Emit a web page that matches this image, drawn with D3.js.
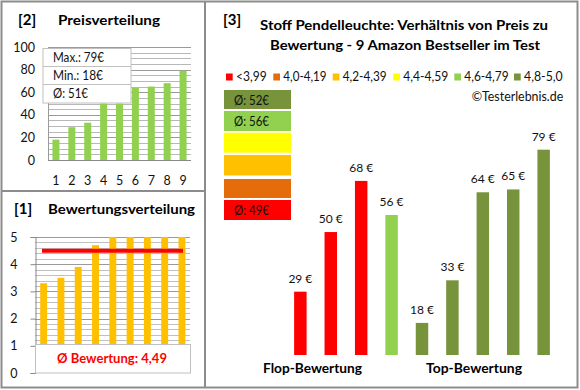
<!DOCTYPE html>
<html><head><meta charset="utf-8">
<script src="https://cdn.jsdelivr.net/npm/d3@7"></script>
<style>body{margin:0;background:#fff}svg{display:block}text{font-family:Lato,"Open Sans",sans-serif}</style>
</head><body><svg id="c" width="580" height="390"></svg>
<script>
// ---- data ----
const priceCats = ["1","2","3","4","5","6","7","8","9"];
const prices = [18,29,33,50,50,64,65,68,79];
const priceTicks = [0,20,40,60,80,100];
const priceStats = ["Max.: 79€","Min.: 18€","Ø: 51€"];

const ratingCats = ["1","2","3","4","5","6","7","8","9"];
const ratings = [3.3,3.5,3.9,4.7,5,5,5,5,5];
const ratingTicks = [0,1,2,3,4,5];
const avgRating = 4.49;
const avgRatingLabel = "Ø Bewertung: 4,49";

const cmpCats = ["a","b","c","d","e","f","g","h","i"];
const cmpPrices = [29,50,68,56,18,33,64,65,79];
const cmpGroup = [0,0,0,4,5,5,5,5,5];
const groupLabels = ["<3,99","4,0-4,19","4,2-4,39","4,4-4,59","4,6-4,79","4,8-5,0"];
const groupColors = ["#ff0000","#e46c0a","#ffc000","#ffff00","#92d050","#77933c"];
const groupAvg = ["Ø: 49€","","","","Ø: 56€","Ø: 52€"];

const svg = d3.select("#c");
function fit(sel, w){ return sel.attr("textLength",w).attr("lengthAdjust","spacingAndGlyphs"); }
// borders
const bc = "#8c8c8c";
svg.append("rect").attr("x",1.5).attr("y",1.5).attr("width",576).attr("height",386).attr("fill","none").attr("stroke",bc).attr("stroke-width",2);
svg.append("line").attr("x1",205).attr("x2",205).attr("y1",1).attr("y2",388).attr("stroke",bc).attr("stroke-width",2);
svg.append("line").attr("x1",1).attr("x2",205).attr("y1",191).attr("y2",191).attr("stroke",bc).attr("stroke-width",2);

// ---- Panel 2: Preisverteilung ----
svg.append("text").attr("x",18).attr("y",25).attr("font-size",15).attr("font-weight","bold").text("[2]");
fit(svg.append("text").attr("x",58).attr("y",25).attr("font-size",13.5).attr("font-weight","bold").text("Preisverteilung"),102);
const x2 = d3.scaleBand().domain(priceCats).range([48,191]).paddingInner(0.56).paddingOuter(0.28);
const y2 = d3.scaleLinear().domain([0,100]).range([160,47]);
const g2 = svg.append("g");
g2.selectAll("line.grid").data(d3.range(5,101,5)).join("line")
  .attr("x1",48).attr("x2",191).attr("y1",d=>Math.round(y2(d))+0.5).attr("y2",d=>Math.round(y2(d))+0.5)
  .attr("stroke",d=>d%20===0?"#9a9a9a":"#b8b8b8").attr("stroke-width",1);
g2.append("line").attr("x1",48.5).attr("x2",48.5).attr("y1",y2(100)).attr("y2",y2(0)).attr("stroke","#9a9a9a");
g2.append("line").attr("x1",48).attr("x2",191).attr("y1",y2(0)+0.5).attr("y2",y2(0)+0.5).attr("stroke","#888");
g2.selectAll("rect.bar").data(prices).join("rect")
  .attr("x",(d,i)=>x2(priceCats[i])).attr("width",x2.bandwidth())
  .attr("y",d=>y2(d)).attr("height",d=>y2(0)-y2(d)).attr("fill","#92d050");
const ax2 = d3.axisLeft(y2).tickValues(priceTicks).tickSize(0).tickPadding(0);
const ag2 = svg.append("g").attr("transform","translate(35,0)").call(ax2);
ag2.select(".domain").remove();
ag2.selectAll("text").attr("font-size",12.5).attr("fill","#111").style("font-family","Lato,sans-serif");
const bx2 = d3.axisBottom(x2).tickSize(0).tickPadding(0);
const bg2 = svg.append("g").attr("transform","translate(0,176)").call(bx2);
bg2.select(".domain").remove();
bg2.selectAll("text").attr("font-size",12.5).attr("fill","#111").style("font-family","Lato,sans-serif");
// stats box
const sb = svg.append("g");
sb.append("rect").attr("x",43).attr("y",48.5).attr("width",88).attr("height",54.5).attr("fill","#fff").attr("stroke","#c0c0c0");
sb.append("line").attr("x1",43).attr("x2",131).attr("y1",66.5).attr("y2",66.5).attr("stroke","#c0c0c0");
sb.append("line").attr("x1",43).attr("x2",131).attr("y1",84.5).attr("y2",84.5).attr("stroke","#c0c0c0");
const statW = [51,50,35];
sb.selectAll("text").data(priceStats).join("text").attr("x",53).attr("y",(d,i)=>62+i*18)
  .attr("font-size",12.5).attr("fill","#111").text(d=>d)
  .attr("textLength",(d,i)=>statW[i]).attr("lengthAdjust","spacingAndGlyphs");

// ---- Panel 1: Bewertungsverteilung ----
svg.append("text").attr("x",14).attr("y",214).attr("font-size",15).attr("font-weight","bold").text("[1]");
fit(svg.append("text").attr("x",48).attr("y",214).attr("font-size",13.5).attr("font-weight","bold").text("Bewertungsverteilung"),147);
const x1 = d3.scaleBand().domain(ratingCats).range([35,190.6]).paddingInner(0.6).paddingOuter(0.3);
const y1 = d3.scaleLinear().domain([0,5]).range([373,237]);
const g1 = svg.append("g");
g1.selectAll("line.grid").data(d3.range(1,26).map(i=>i/5)).join("line")
  .attr("x1",35).attr("x2",190).attr("y1",d=>Math.round(y1(d))+0.5).attr("y2",d=>Math.round(y1(d))+0.5)
  .attr("stroke",(d,i)=>(i+1)%5===0?"#9a9a9a":"#c0c0c0");
g1.selectAll("rect.bar").data(ratings).join("rect")
  .attr("x",(d,i)=>x1(ratingCats[i])).attr("width",x1.bandwidth())
  .attr("y",d=>y1(d)).attr("height",d=>y1(0)-y1(d)).attr("fill","#ffc000");
g1.append("line").attr("x1",42).attr("x2",183).attr("y1",y1(avgRating)).attr("y2",y1(avgRating)).attr("stroke","#ff0000").attr("stroke-width",4);
const ax1 = d3.axisLeft(y1).tickValues(ratingTicks).tickFormat(d3.format("d")).tickSize(5).tickPadding(13);
const ag1 = svg.append("g").attr("transform","translate(35.5,0)").call(ax1);
ag1.select(".domain").attr("stroke","#888");
ag1.selectAll(".tick line").attr("stroke","#888");
ag1.selectAll("text").attr("font-size",12.5).attr("fill","#111").style("font-family","Lato,sans-serif");
svg.append("rect").attr("x",35.5).attr("y",344.5).attr("width",155).attr("height",28.5).attr("fill","#fff").attr("stroke","#c0c0c0");
fit(svg.append("text").attr("x",57).attr("y",363).attr("font-size",14).attr("font-weight","bold").attr("fill","#ff0000").text(avgRatingLabel),110);

// ---- Panel 3 ----
svg.append("text").attr("x",223).attr("y",25).attr("font-size",15).attr("font-weight","bold").text("[3]");
fit(svg.append("text").attr("x",260).attr("y",30).attr("font-size",14).attr("font-weight","bold").text("Stoff Pendelleuchte: Verhältnis von Preis zu"),288);
fit(svg.append("text").attr("x",270).attr("y",50).attr("font-size",14).attr("font-weight","bold").text("Bewertung - 9 Amazon Bestseller im Test"),270);
const legX = [226,273.3,332.7,393.3,454.3,514];
const legW = [30.7,43.3,44,45,44.3,38.7];
const lg = svg.append("g");
groupLabels.forEach((l,i)=>{
  lg.append("rect").attr("x",legX[i]).attr("y",73.5).attr("width",6.7).attr("height",7).attr("fill",groupColors[i]);
  fit(lg.append("text").attr("x",legX[i]+10).attr("y",81).attr("font-size",12.5).attr("fill","#111").text(l),legW[i]);
});
fit(svg.append("text").attr("x",471.7).attr("y",101).attr("font-size",12.5).attr("fill","#111").text("©Testerlebnis.de"),91.6);
// avg boxes (top: highest group)
const boxY = [200,179,155,132.7,111,90];
const boxH = [20,19,20.5,20,20,19];
groupColors.forEach((c,i)=>{
  svg.append("rect").attr("x",224).attr("y",boxY[i]).attr("width",67).attr("height",boxH[i]).attr("fill",c);
  if(groupAvg[i]) fit(svg.append("text").attr("x",234).attr("y",boxY[i]+14.5).attr("font-size",12.5).attr("fill","#111").text(groupAvg[i]),35);
});
const x3 = d3.scaleBand().domain(cmpCats).range([285,559]).paddingInner(0.59).paddingOuter(0.3);
const y3 = d3.scaleLinear().domain([6.7,96.5]).range([355,100]);
svg.selectAll("rect.cmp").data(cmpPrices).join("rect")
  .attr("x",(d,i)=>x3(cmpCats[i])).attr("width",x3.bandwidth())
  .attr("y",d=>y3(d)).attr("height",d=>y3(6.7)-y3(d)).attr("fill",(d,i)=>groupColors[cmpGroup[i]]);
svg.selectAll("text.cmpl").data(cmpPrices).join("text")
  .attr("x",(d,i)=>x3(cmpCats[i])+x3.bandwidth()/2).attr("y",d=>y3(d)-9)
  .attr("text-anchor","middle").attr("font-size",12).attr("fill","#111").text(d=>d+" €");
fit(svg.append("text").attr("x",263).attr("y",373).attr("font-size",13.5).attr("font-weight","bold").text("Flop-Bewertung"),99);
fit(svg.append("text").attr("x",426).attr("y",373).attr("font-size",13.5).attr("font-weight","bold").text("Top-Bewertung"),96);
</script></body></html>
